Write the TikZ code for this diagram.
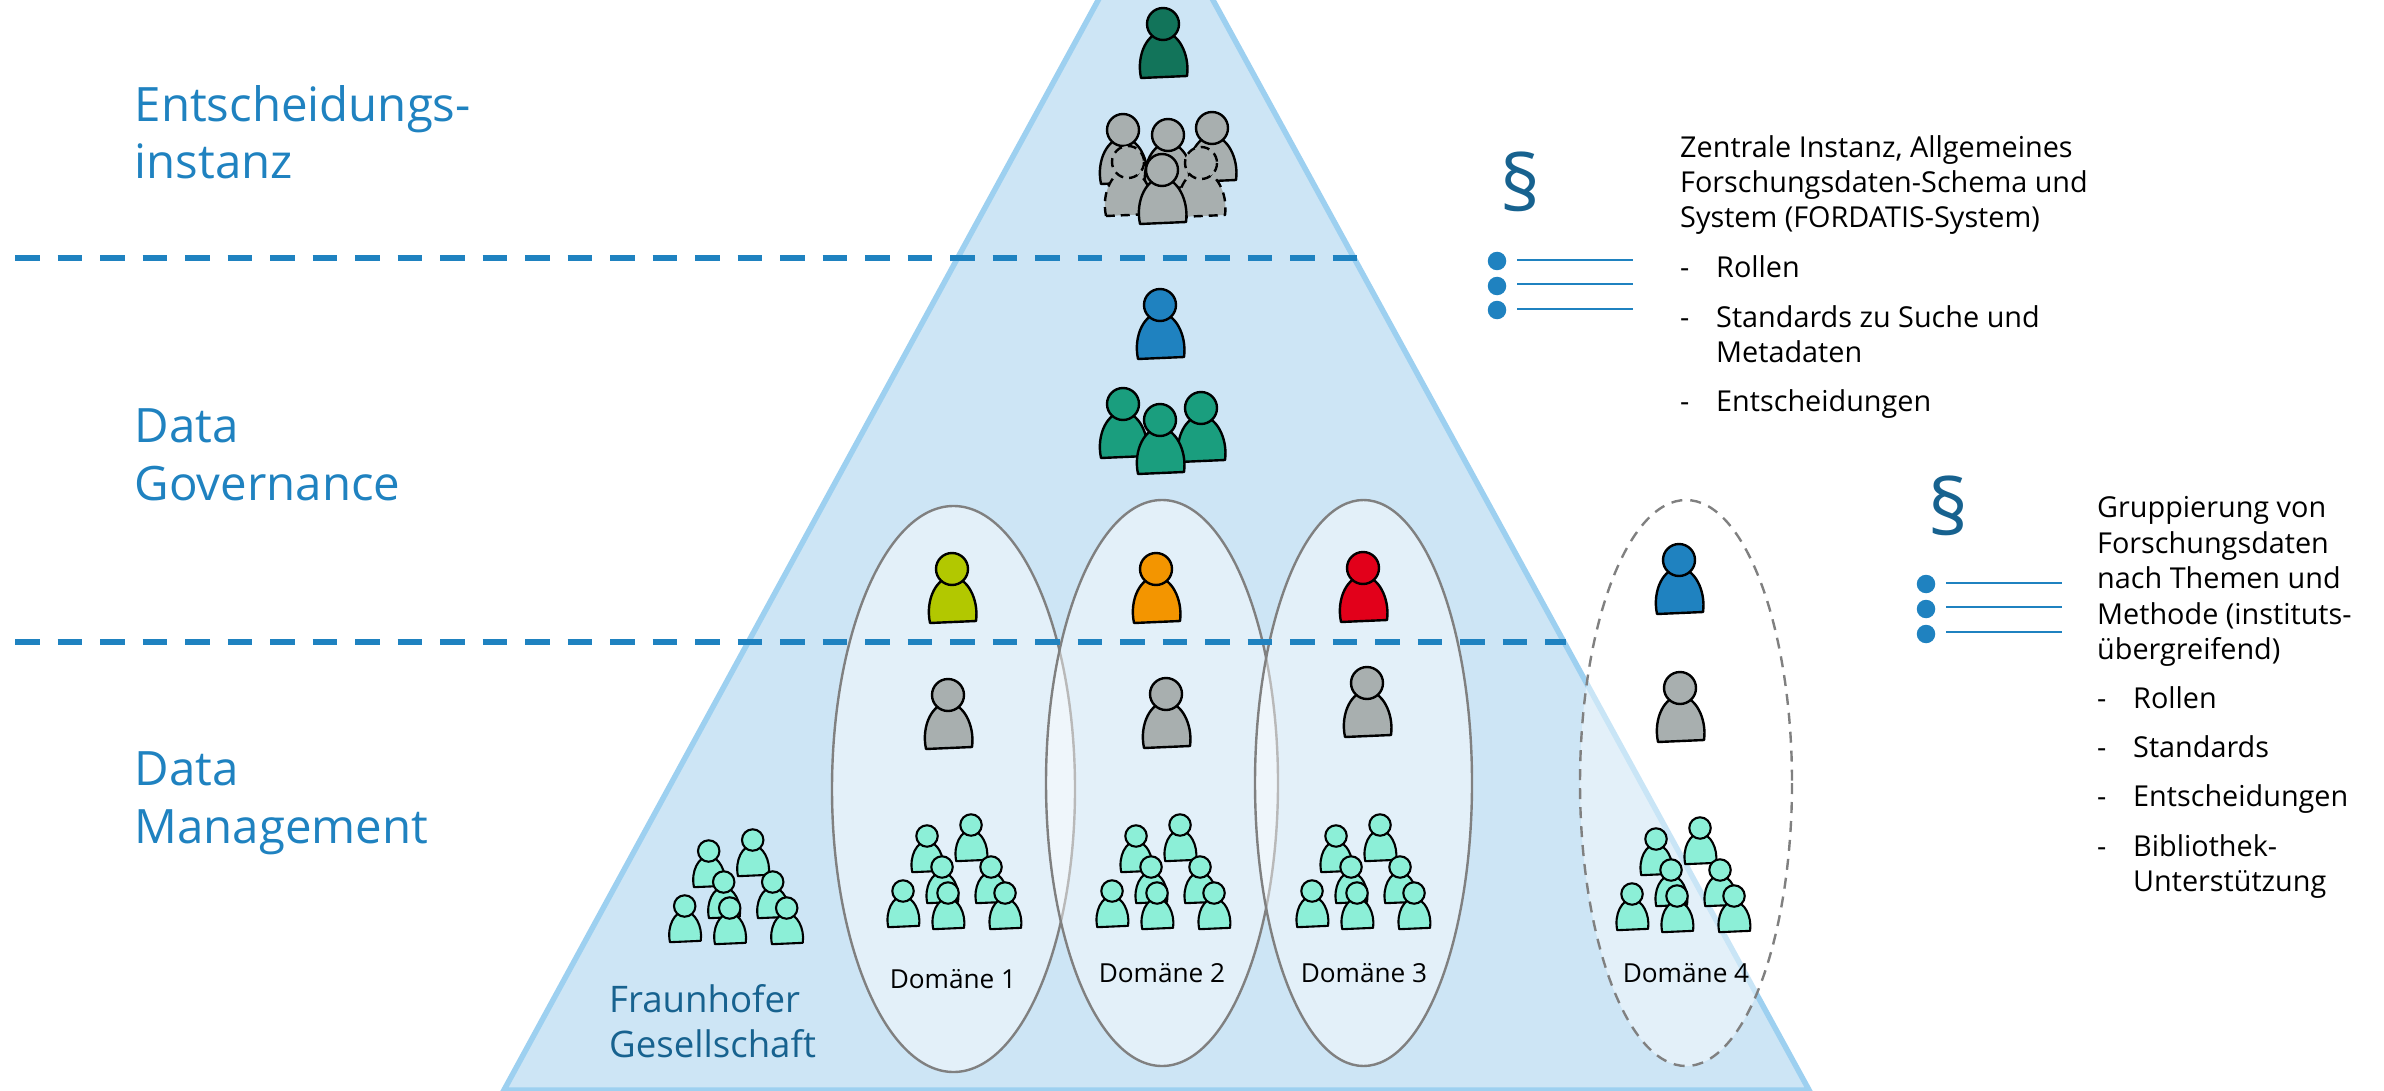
\documentclass[tikz,border=0pt]{standalone}
\usepackage{fontspec}
\setmainfont{Open Sans}
\usetikzlibrary{calc}
\definecolor{triFill}{HTML}{CDE5F5}
\definecolor{triLine}{HTML}{9DD0F0}
\definecolor{fhBlue}{HTML}{1F82C0}
\definecolor{fhDark}{HTML}{17628F}
\definecolor{pGray}{HTML}{A8AFAF}
\definecolor{pDark}{HTML}{12745A}
\definecolor{pGreen}{HTML}{1A9E7E}
\definecolor{pOlive}{HTML}{B2C800}
\definecolor{pOrange}{HTML}{F39500}
\definecolor{pRed}{HTML}{E2001A}
\definecolor{pMint}{HTML}{8CEFD7}
\newcommand{\fs}[2]{\fontsize{#1pt}{#2pt}\selectfont}
\tikzset{
  x=1pt,y=-1pt,
  persona/.pic={
    \path[pic actions,line join=round] (-22,54) .. controls (-27,30) and (-15,8) .. (0,8) .. controls (15,8) and (27,30) .. (24,52) -- cycle;
    \path[pic actions] (0,0) circle[radius=16];
  },
  person/.style={draw=black,line width=2.4pt,fill=#1},
  mini/.style={draw=black,line width=2.1pt,fill=pMint,scale=0.67},
  domoval/.style={draw=black!50,line width=2.4pt,fill=white,fill opacity=0.45},
  levelline/.style={line width=6pt,draw=fhBlue,dash pattern=on 24.5pt off 18pt},
  heading/.style={anchor=base west,align=left,text=fhBlue,font=\fs{47.4}{57.5},inner sep=0pt},
  fhlabel/.style={anchor=base west,align=left,text=fhDark,font=\fs{36.6}{45},inner sep=0pt},
  domlabel/.style={anchor=base,text=black,font=\fs{26.2}{30},inner sep=0pt},
  bodytext/.style={anchor=base west,text=black,font=\fs{28.8}{35},inner sep=0pt},
  para/.style={anchor=base,text=fhDark,font=\fs{78}{78},inner sep=0pt},
  bull/.style={circle,fill=fhBlue,inner sep=0pt,minimum size=18.5pt},
  ruleline/.style={draw=fhBlue,line width=2.4pt},
}
\newcommand{\cluster}[2]{%
  \foreach \dx/\dy in {0/0,44/-11,15/31,64/31,-24/55,21/57,78/57}
    \pic[mini] at ($(#1,#2)+(\dx,\dy)$) {persona};
}
\begin{document}
\begin{tikzpicture}
\useasboundingbox (0,0) rectangle (2384,1091);
\begin{scope}
\clip (0,0) rectangle (2384,1091);
\draw[draw=triLine,fill=triFill,line width=5.5pt,line join=miter] (1155.5,-105) coordinate (apex) -- (504,1090) coordinate (bl) -- (1809,1090) coordinate (br) -- cycle;
\end{scope}
% domain ellipses
\draw[domoval] (953.5,789) ellipse[x radius=121.5,y radius=283];
\draw[domoval] (1162,783) ellipse[x radius=116,y radius=283];
\draw[domoval] (1363.5,783) ellipse[x radius=108.5,y radius=283];
\draw[domoval,dashed,dash pattern=on 11pt off 8pt] (1686,783) ellipse[x radius=106,y radius=283];
% level lines
\coordinate (l1a) at (15,258); \coordinate (l1b) at (1358,258);
\coordinate (l2a) at (15,641.5); \coordinate (l2b) at (1566,641.5);
\draw[levelline] (l1a) -- (l1b);
\draw[levelline] (l2a) -- (l2b);
% top people
\pic[person=pDark] at (1163,24) {persona};
\pic[person=pGray] at (1123,130) {persona};
\pic[person=pGray] at (1168,135) {persona};
\pic[person=pGray] at (1212,128) {persona};
\pic[person=pGray,dashed,dash pattern=on 9pt off 6pt] at (1128,162) {persona};
\pic[person=pGray,dashed,dash pattern=on 9pt off 6pt] at (1201,163) {persona};
\pic[person=pGray] at (1162,170) {persona};
% governance
\pic[person=fhBlue] at (1160,305) {persona};
\pic[person=pGreen] at (1123,404) {persona};
\pic[person=pGreen] at (1201,408) {persona};
\pic[person=pGreen] at (1160,420) {persona};
% domain heads
\pic[person=pOlive] at (952,569) {persona};
\pic[person=pOrange] at (1156,569) {persona};
\pic[person=pRed] at (1363,568) {persona};
\pic[person=fhBlue] at (1679,560) {persona};
\pic[person=pGray] at (948,695) {persona};
\pic[person=pGray] at (1166,694) {persona};
\pic[person=pGray] at (1367,683) {persona};
\pic[person=pGray] at (1680,688) {persona};
% clusters
\cluster{708.7}{851}
\cluster{927}{836}
\cluster{1136}{836}
\cluster{1336}{836}
\cluster{1656}{839}
% labels
\node[heading] (h1) at (134.5,179) {Entscheidungs-\\instanz};
\node[heading] (h2) at (134.5,500) {Data\\Governance};
\node[heading] (h3) at (134.5,843) {Data\\Management};
\node[fhlabel] (fh) at (609,1057) {Fraunhofer\\Gesellschaft};
\node[domlabel] (d1) at (953,988) {Domäne 1};
\node[domlabel] (d2) at (1162,982) {Domäne 2};
\node[domlabel] (d3) at (1364,982) {Domäne 3};
\node[domlabel] (d4) at (1686,982) {Domäne 4};
% first legend
\node[para] (p1) at (1521,212) {§};
\node[bull] (b1) at (1497,261) {}; \node[bull] (b2) at (1497,286) {}; \node[bull] (b3) at (1497,310) {};
\coordinate (r1) at (1633,260); \coordinate (r2) at (1633,284); \coordinate (r3) at (1633,309);
\draw[ruleline] ($(b1)+(20,-1)$) -- (r1);
\draw[ruleline] ($(b2)+(20,-2)$) -- (r2);
\draw[ruleline] ($(b3)+(20,-1)$) -- (r3);
\node[bodytext] (t1) at (1680,158) {Zentrale Instanz, Allgemeines};
\node[bodytext] (t2) at (1680,193) {Forschungsdaten-Schema und};
\node[bodytext] (t3) at (1680,228) {System (FORDATIS-System)};
\node[bodytext] (t4a) at (1680,277) {-}; \node[bodytext] (t4) at (1716,277) {Rollen};
\node[bodytext] (t5a) at (1680,327) {-}; \node[bodytext] (t5) at (1716,327) {Standards zu Suche und};
\node[bodytext] (t6) at (1716,362) {Metadaten};
\node[bodytext] (t7a) at (1680,411) {-}; \node[bodytext] (t7) at (1716,411) {Entscheidungen};
% second legend
\node[para] (p2) at (1949,535) {§};
\node[bull] (c1) at (1926,584) {}; \node[bull] (c2) at (1926,609) {}; \node[bull] (c3) at (1926,634) {};
\coordinate (s1) at (2062,583); \coordinate (s2) at (2062,607); \coordinate (s3) at (2062,632);
\draw[ruleline] ($(c1)+(20,-1)$) -- (s1);
\draw[ruleline] ($(c2)+(20,-2)$) -- (s2);
\draw[ruleline] ($(c3)+(20,-2)$) -- (s3);
\node[bodytext] (u1) at (2097,517.5) {Gruppierung von};
\node[bodytext] (u2) at (2097,553) {Forschungsdaten};
\node[bodytext] (u3) at (2097,588.5) {nach Themen und};
\node[bodytext] (u4) at (2097,624) {Methode (instituts-};
\node[bodytext] (u5) at (2097,659) {übergreifend)};
\node[bodytext] (u6a) at (2097,708) {-}; \node[bodytext] (u6) at (2133,708) {Rollen};
\node[bodytext] (u7a) at (2097,757) {-}; \node[bodytext] (u7) at (2133,757) {Standards};
\node[bodytext] (u8a) at (2097,806.5) {-}; \node[bodytext] (u8) at (2133,806.5) {Entscheidungen};
\node[bodytext] (u9a) at (2097,856) {-}; \node[bodytext] (u9) at (2133,856) {Bibliothek-};
\node[bodytext] (u10) at (2133,891.5) {Unterstützung};
\end{tikzpicture}
\end{document}
